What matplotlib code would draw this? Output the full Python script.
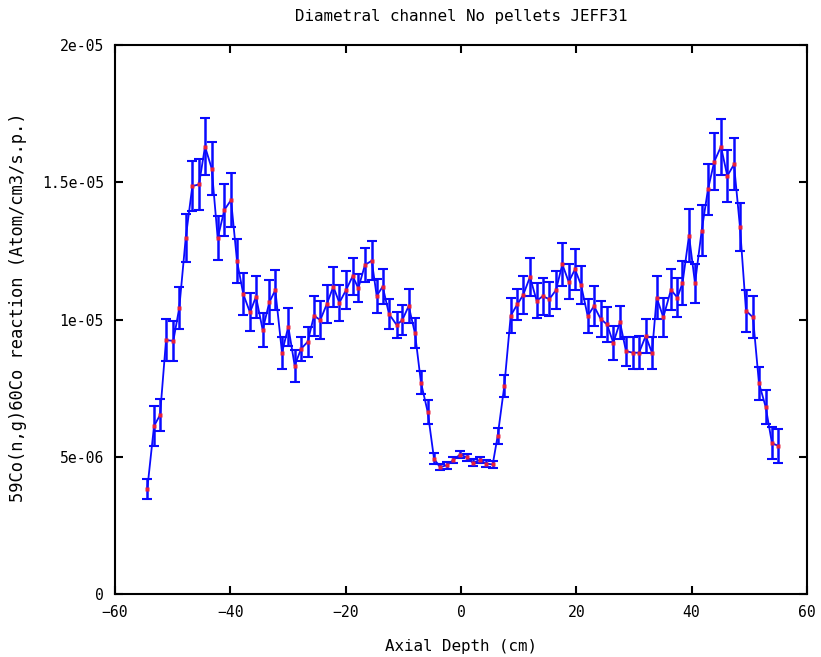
import matplotlib
matplotlib.use("Agg")
import matplotlib.pyplot as plt

depth_cm = [-54.40, -53.23, -52.19, -51.15, -49.89, -48.85, -47.74, -46.59, -45.43, -44.39,
            -43.23, -42.19, -41.04, -39.88, -38.84, -37.75, -36.59, -35.55, -34.39, -33.24,
            -32.20, -31.04, -29.95, -28.84, -27.74, -26.58, -25.49, -24.40, -23.29, -22.14,
            -21.10, -19.94, -18.78, -17.81, -16.65, -15.48, -14.62, -13.58, -12.48, -11.15,
            -10.18, -9.07, -7.98, -6.94, -5.77, -4.68, -3.64, -2.48, -1.34, -0.17,
            0.99, 2.03, 3.29, 4.34, 5.50, 6.36, 7.51, 8.62, 9.76, 10.80,
            11.96, 13.13, 14.17, 15.31, 16.47, 17.57, 18.68, 19.77, 20.81, 21.97,
            23.06, 24.22, 25.32, 26.41, 27.57, 28.61, 29.77, 30.87, 32.03, 33.12,
            33.93, 35.08, 36.41, 37.51, 38.41, 39.54, 40.58, 41.74, 42.83, 43.92,
            45.08, 46.18, 47.34, 48.38, 49.42, 50.63, 51.67, 52.83, 53.93, 55.02]

rate_e6 = [3.83, 6.12, 6.52, 9.25, 9.22, 10.43, 12.96, 14.86, 14.92, 16.30,
           15.50, 12.96, 13.99, 14.35, 12.13, 10.92, 10.26, 10.83, 9.62, 10.63,
           11.07, 8.79, 9.74, 8.32, 8.93, 9.19, 10.14, 9.98, 10.55, 11.20,
           10.61, 11.07, 11.58, 11.14, 11.99, 12.14, 10.86, 11.20, 10.20, 9.80,
           9.98, 10.49, 9.50, 7.70, 6.63, 4.93, 4.62, 4.69, 4.88, 5.08,
           4.98, 4.78, 4.88, 4.75, 4.72, 5.76, 7.58, 10.14, 10.55, 10.90,
           11.55, 10.68, 10.85, 10.74, 11.07, 12.01, 11.37, 11.83, 11.26, 10.13,
           10.49, 10.02, 9.82, 9.15, 9.90, 8.85, 8.79, 8.79, 9.40, 8.79,
           10.80, 10.08, 11.08, 10.80, 11.32, 13.06, 11.32, 13.24, 14.75, 15.75,
           16.30, 15.23, 15.65, 13.36, 10.32, 10.08, 7.68, 6.82, 5.49, 5.40]

err_e6 = [0.36, 0.72, 0.58, 0.78, 0.72, 0.76, 0.88, 0.91, 0.94, 1.03,
          0.98, 0.81, 0.96, 0.98, 0.79, 0.77, 0.69, 0.77, 0.63, 0.80,
          0.73, 0.58, 0.69, 0.58, 0.44, 0.55, 0.73, 0.69, 0.69, 0.73,
          0.66, 0.69, 0.67, 0.50, 0.62, 0.71, 0.62, 0.63, 0.56, 0.47,
          0.55, 0.61, 0.55, 0.43, 0.43, 0.20, 0.12, 0.12, 0.12, 0.12,
          0.12, 0.12, 0.12, 0.12, 0.12, 0.29, 0.40, 0.64, 0.56, 0.70,
          0.69, 0.64, 0.68, 0.62, 0.69, 0.78, 0.64, 0.75, 0.69, 0.61,
          0.72, 0.67, 0.64, 0.61, 0.60, 0.53, 0.58, 0.60, 0.62, 0.58,
          0.79, 0.70, 0.75, 0.70, 0.80, 0.96, 0.72, 0.93, 0.93, 1.03,
          1.02, 0.96, 0.95, 0.88, 0.76, 0.77, 0.60, 0.61, 0.58, 0.61]

title = "Diametral channel No pellets JEFF31"
xlabel = "Axial Depth (cm)"
ylabel = "59Co(n,g)60Co reaction (Atom/cm3/s.p.)"
xticks = [-60, -40, -20, 0, 20, 40, 60]
yticks = [0, 5e-6, 1e-5, 1.5e-5, 2e-5]
ytick_labels = ["0", "5e-06", "1e-05", "1.5e-05", "2e-05"]

y = [v * 1e-6 for v in rate_e6]
yerr = [v * 1e-6 for v in err_e6]

plt.rcParams['font.family'] = ['DejaVu Sans Mono']
fig = plt.figure(figsize=(8.21, 6.57), dpi=100)
ax = fig.add_axes([115/821, 63/657, 692/821, 549/657])

ax.errorbar(depth_cm, y, yerr=yerr, fmt='-', color='#0a0aff', lw=1.3,
            elinewidth=1.8, capsize=3.5, capthick=1.5, zorder=2)
ax.plot(depth_cm, y, ls='none', marker='s', ms=3.2, mfc='#e8203a', mec='none',
        zorder=3)

ax.set_xlim(-60, 60)
ax.set_ylim(0, 2e-5)
ax.set_xticks(xticks)
ax.set_yticks(yticks)
ax.set_yticklabels(ytick_labels)
ax.tick_params(direction='in', length=6, width=1.5, top=True, right=True,
               labelsize=10.6, pad=8, colors='black')
for s in ax.spines.values():
    s.set_linewidth(1.5)

fig.text(461/821, 1 - 16/657, title, ha='center', va='center', fontsize=11.4)
fig.text(461/821, 1 - 646/657, xlabel, ha='center', va='center', fontsize=11.4)
fig.text(18/821, 1 - 307/657, ylabel, ha='center', va='center', fontsize=12.3,
         rotation=90)

fig.savefig("out.png", dpi=100)
